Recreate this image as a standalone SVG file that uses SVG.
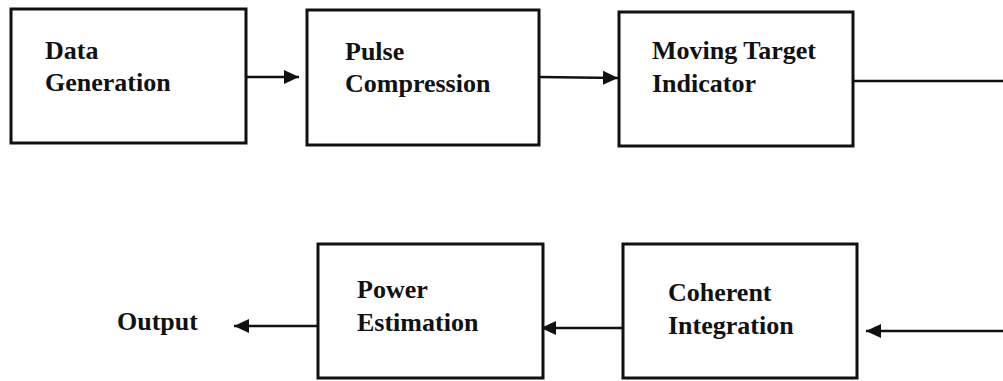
<svg xmlns="http://www.w3.org/2000/svg" width="1003" height="381" viewBox="0 0 1003 381">
<defs>
<style>
.box{fill:#fff;stroke:#111;stroke-width:3}
.lbl{font-family:'Liberation Serif','Times New Roman',serif;font-weight:bold;font-size:26px;fill:#111}
.con{stroke:#111;stroke-width:2.5;fill:none}
</style>
<marker id="ah" markerUnits="userSpaceOnUse" markerWidth="16" markerHeight="16" viewBox="0 0 16 16" refX="15" refY="8" orient="auto">
<path d="M0,1 L15,8 L0,15 Z" fill="#111"/>
</marker>
</defs>
<rect width="1003" height="381" fill="#fff"/>
<g id="connectors">
<line class="con" x1="246" y1="77" x2="299" y2="77" marker-end="url(#ah)"/>
<line class="con" x1="539" y1="77" x2="618" y2="78" marker-end="url(#ah)"/>
<line class="con" x1="853" y1="81" x2="1003" y2="81"/>
<line class="con" x1="1003" y1="331" x2="866" y2="331" marker-end="url(#ah)"/>
<line class="con" x1="623" y1="328" x2="541" y2="328" marker-end="url(#ah)"/>
<line class="con" x1="318" y1="326" x2="234" y2="326" marker-end="url(#ah)"/>
</g>
<g id="data-generation">
<rect class="box" x="11" y="9" width="235" height="134"/>
<text class="lbl" x="45" y="59">Data</text>
<text class="lbl" x="45" y="91">Generation</text>
</g>
<g id="pulse-compression">
<rect class="box" x="307" y="10" width="232" height="135"/>
<text class="lbl" x="345" y="60">Pulse</text>
<text class="lbl" x="345" y="92">Compression</text>
</g>
<g id="moving-target-indicator">
<rect class="box" x="619" y="12" width="234" height="134"/>
<text class="lbl" x="652" y="59">Moving Target</text>
<text class="lbl" x="652" y="92">Indicator</text>
</g>
<g id="coherent-integration">
<rect class="box" x="623" y="244" width="234" height="134"/>
<text class="lbl" x="668" y="301">Coherent</text>
<text class="lbl" x="668" y="334">Integration</text>
</g>
<g id="power-estimation">
<rect class="box" x="318" y="244" width="225" height="134"/>
<text class="lbl" x="357" y="298">Power</text>
<text class="lbl" x="357" y="331">Estimation</text>
</g>
<g id="output">
<text class="lbl" x="117" y="330">Output</text>
</g>
</svg>
